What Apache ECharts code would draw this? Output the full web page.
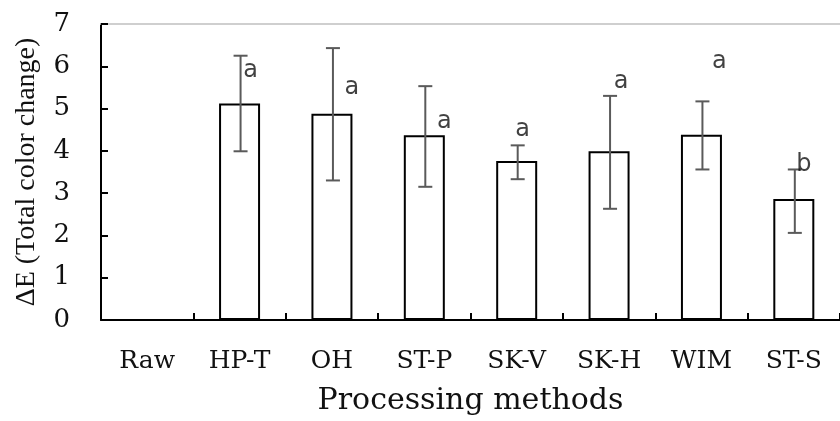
<!DOCTYPE html>
<html>
<head>
<meta charset="utf-8">
<script src="https://cdn.jsdelivr.net/npm/echarts@6/dist/echarts.min.js"></script>
<style>
  html, body { margin: 0; padding: 0; background: #fff; }
  #chart { width: 840px; height: 421px; }
</style>
</head>
<body>
<div id="chart"></div>
<script>
// processing methods and mean total colour change (ΔE)
const methods = ["Raw", "HP-T", "OH", "ST-P", "SK-V", "SK-H", "WIM", "ST-S"];
const deltaE = [0, 5.12, 4.88, 4.37, 3.76, 3.99, 4.38, 2.86];
const errLow = [null, 3.99, 3.30, 3.15, 3.33, 2.63, 3.56, 2.06];
const errHigh = [null, 6.25, 6.43, 5.53, 4.13, 5.30, 5.17, 3.56];
// significance letters and the height they sit at
const letters = ["", "a", "a", "a", "a", "a", "a", "b"];
const letterY = [null, 5.9, 5.49, 4.69, 4.49, 5.63, 6.1, 3.66];
const letterShift = [0, 11, 20, 20, 6, 12, 18, 10];
const yTicks = [0, 1, 2, 3, 4, 5, 6, 7];

const serif = "'Liberation Serif', 'Times New Roman', serif";
const wideSerif = "'DejaVu Serif', serif"; // the source text is stretched sideways

const chart = echarts.init(document.getElementById("chart"));

const errData = methods
  .map((m, i) => [i, errLow[i], errHigh[i]])
  .filter((d) => d[1] != null);

const letterData = methods
  .map((m, i) => ({
    value: [i, letterY[i]],
    name: letters[i],
    label: { offset: [letterShift[i], 0] },
  }))
  .filter((d) => d.value[1] != null);

chart.setOption({
  animation: false,
  grid: { left: 101, top: 24, width: 749, height: 303 },
  xAxis: [
    {
      type: "category",
      data: methods,
      name: "Processing methods",
      nameLocation: "middle",
      nameGap: 66,
      nameTextStyle: { fontFamily: wideSerif, fontSize: 30, color: "#111" },
      axisLine: { lineStyle: { color: "#000", width: 2 } },
      axisTick: {
        show: true,
        interval: 0,
        inside: true,
        length: 7,
        lineStyle: { color: "#000", width: 2 },
      },
      axisLabel: { fontFamily: wideSerif, fontSize: 25, color: "#111", margin: 29, interval: 0 },
    },
    {
      type: "category",
      position: "top",
      data: methods,
      axisLine: { lineStyle: { color: "#cfcfcf", width: 2 } },
      axisTick: { show: false },
      axisLabel: { show: false },
    },
  ],
  yAxis: {
    type: "value",
    min: 0,
    max: 7,
    interval: 1,
    name: "ΔE (Total color change)",
    nameLocation: "middle",
    nameGap: 60,
    nameTextStyle: { fontFamily: serif, fontSize: 28, color: "#111" },
    axisLine: { show: true, lineStyle: { color: "#000", width: 2 } },
    axisTick: { show: true, inside: true, length: 7, lineStyle: { color: "#000", width: 2 } },
    axisLabel: {
      fontFamily: wideSerif,
      fontSize: 26,
      color: "#111",
      margin: 31,
      formatter: (v) => (yTicks.includes(v) ? String(v) : ""),
    },
    splitLine: { show: false },
  },
  series: [
    {
      type: "bar",
      data: deltaE,
      barWidth: 41,
      itemStyle: { color: "#fff", borderColor: "#000", borderWidth: 2 },
      z: 2,
    },
    {
      type: "custom",
      data: errData,
      z: 3,
      renderItem(params, api) {
        const lo = api.coord([api.value(0), api.value(1)]);
        const hi = api.coord([api.value(0), api.value(2)]);
        const x = lo[0] + 1;
        const cap = 7;
        const style = { stroke: "#5a5a5a", lineWidth: 2 };
        return {
          type: "group",
          children: [
            { type: "line", shape: { x1: x, y1: lo[1], x2: x, y2: hi[1] }, style },
            { type: "line", shape: { x1: x - cap, y1: hi[1], x2: x + cap, y2: hi[1] }, style },
            { type: "line", shape: { x1: x - cap, y1: lo[1], x2: x + cap, y2: lo[1] }, style },
          ],
        };
      },
    },
    {
      type: "scatter",
      data: letterData,
      symbolSize: 0,
      z: 4,
      label: {
        show: true,
        position: "inside",
        formatter: (p) => p.name,
        fontFamily: "'DejaVu Sans', Verdana, sans-serif",
        fontSize: 24,
        color: "#111",
      },
    },
  ],
});
</script>
</body>
</html>
